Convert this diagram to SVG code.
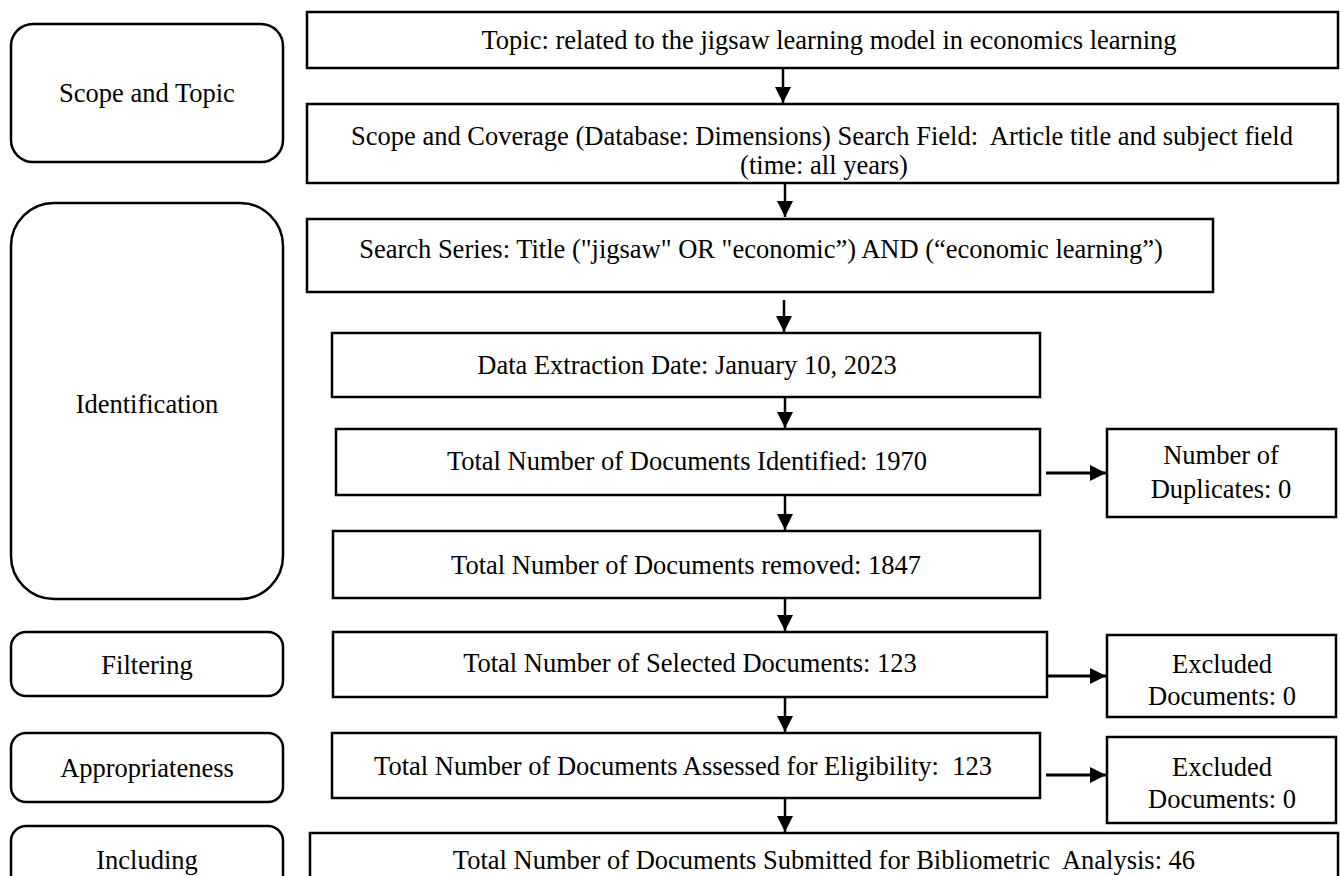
<svg xmlns="http://www.w3.org/2000/svg" width="1340" height="876" viewBox="0 0 1340 876">
<style>
  .box { fill: #ffffff; stroke: #000000; stroke-width: 2.5; }
  .lbl { font-family: "Liberation Serif", "Times New Roman", serif; font-size: 26.5px; fill: #000000; text-anchor: middle; }
  .v { stroke: #000000; stroke-width: 2.5; fill: none; }
  .h { stroke: #000000; stroke-width: 3.2; fill: none; }
</style>
<defs>
  <marker id="ah" viewBox="0 0 10 10" refX="10" refY="5" markerWidth="16" markerHeight="16" markerUnits="userSpaceOnUse" orient="auto">
    <path d="M0,0 L10,5 L0,10 Z" fill="#000000"/>
  </marker>
</defs>
<rect width="1340" height="876" fill="#ffffff"/>

<g id="stage-scope">
  <rect class="box" x="11" y="24" width="272" height="138" rx="22" ry="22"/>
  <text class="lbl" x="147" y="102">Scope and Topic</text>
</g>
<g id="stage-identification">
  <rect class="box" x="11" y="203" width="272" height="396" rx="43" ry="43"/>
  <text class="lbl" x="147" y="413">Identification</text>
</g>
<g id="stage-filtering">
  <rect class="box" x="11" y="632" width="272" height="64" rx="15" ry="15"/>
  <text class="lbl" x="147" y="674">Filtering</text>
</g>
<g id="stage-appropriateness">
  <rect class="box" x="11" y="733" width="272" height="69" rx="15" ry="15"/>
  <text class="lbl" x="147" y="777">Appropriateness</text>
</g>
<g id="stage-including">
  <rect class="box" x="11" y="826" width="272" height="70" rx="15" ry="15"/>
  <text class="lbl" x="147" y="869">Including</text>
</g>

<g id="node-topic">
  <rect class="box" x="307" y="12" width="1031" height="56"/>
  <text class="lbl" x="829" y="49">Topic: related to the jigsaw learning model in economics learning</text>
</g>
<g id="node-scope">
  <rect class="box" x="307" y="104" width="1031" height="79"/>
  <text class="lbl" x="822" y="145">Scope and Coverage (Database: Dimensions) Search Field:&#160; Article title and subject field</text>
  <text class="lbl" x="824" y="174">(time: all years)</text>
</g>
<g id="node-search">
  <rect class="box" x="307" y="219" width="906" height="73"/>
  <text class="lbl" x="761" y="258">Search Series: Title ("jigsaw" OR "economic”) AND (“economic learning”)</text>
</g>
<g id="node-date">
  <rect class="box" x="332" y="333" width="708" height="64"/>
  <text class="lbl" x="687" y="374">Data Extraction Date: January 10, 2023</text>
</g>
<g id="node-identified">
  <rect class="box" x="336" y="429" width="704" height="66"/>
  <text class="lbl" x="687" y="470">Total Number of Documents Identified: 1970</text>
</g>
<g id="node-duplicates">
  <rect class="box" x="1107" y="429" width="229" height="88"/>
  <text class="lbl" x="1221" y="464">Number of</text>
  <text class="lbl" x="1221" y="498">Duplicates: 0</text>
</g>
<g id="node-removed">
  <rect class="box" x="333" y="531" width="707" height="67"/>
  <text class="lbl" x="686" y="574">Total Number of Documents removed: 1847</text>
</g>
<g id="node-selected">
  <rect class="box" x="333" y="632" width="714" height="65"/>
  <text class="lbl" x="690" y="672">Total Number of Selected Documents: 123</text>
</g>
<g id="node-excluded1">
  <rect class="box" x="1107" y="635" width="229" height="82"/>
  <text class="lbl" x="1222" y="673">Excluded</text>
  <text class="lbl" x="1222" y="705">Documents: 0</text>
</g>
<g id="node-assessed">
  <rect class="box" x="332" y="733" width="708" height="65"/>
  <text class="lbl" x="683" y="775">Total Number of Documents Assessed for Eligibility:&#160; 123</text>
</g>
<g id="node-excluded2">
  <rect class="box" x="1107" y="737" width="229" height="86"/>
  <text class="lbl" x="1222" y="776">Excluded</text>
  <text class="lbl" x="1222" y="808">Documents: 0</text>
</g>
<g id="node-submitted">
  <rect class="box" x="310" y="833" width="1028" height="60"/>
  <text class="lbl" x="824" y="869">Total Number of Documents Submitted for Bibliometric&#160; Analysis: 46</text>
</g>

<g id="connectors">
  <line class="v" x1="783" y1="69" x2="783" y2="103" marker-end="url(#ah)"/>
  <line class="v" x1="785" y1="183" x2="785" y2="217" marker-end="url(#ah)"/>
  <line class="v" x1="784" y1="300" x2="784" y2="332" marker-end="url(#ah)"/>
  <line class="v" x1="785" y1="397" x2="785" y2="428" marker-end="url(#ah)"/>
  <line class="v" x1="785" y1="495" x2="785" y2="530" marker-end="url(#ah)"/>
  <line class="v" x1="785" y1="598" x2="785" y2="631" marker-end="url(#ah)"/>
  <line class="v" x1="785" y1="697" x2="785" y2="732" marker-end="url(#ah)"/>
  <line class="v" x1="785" y1="798" x2="785" y2="832" marker-end="url(#ah)"/>
  <line class="h" x1="1046" y1="473" x2="1106" y2="473" marker-end="url(#ah)"/>
  <line class="h" x1="1047" y1="676" x2="1106" y2="676" marker-end="url(#ah)"/>
  <line class="h" x1="1046" y1="775" x2="1106" y2="775" marker-end="url(#ah)"/>
</g>
</svg>
